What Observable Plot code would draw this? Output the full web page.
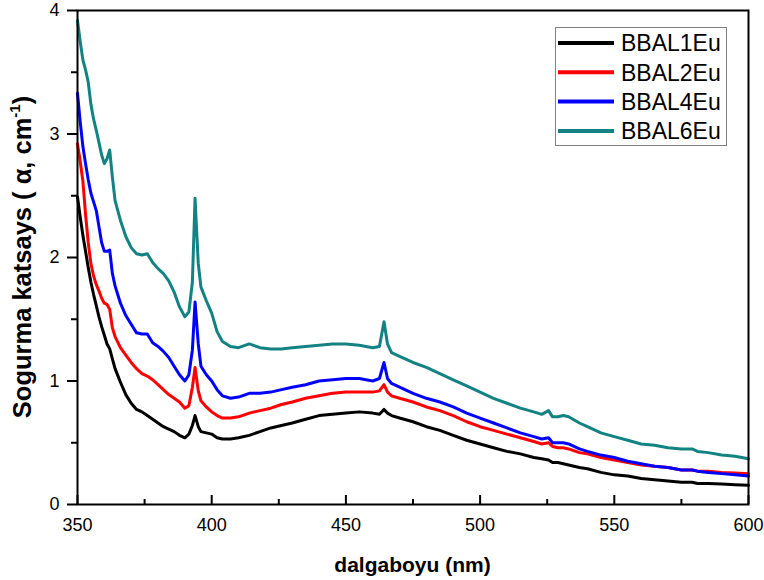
<!DOCTYPE html>
<html><head><meta charset="utf-8">
<script src="https://cdn.jsdelivr.net/npm/d3@7"></script>
<script src="https://cdn.jsdelivr.net/npm/@observablehq/plot@0.6"></script>
<style>body{margin:0;background:#fff;} svg{font-family:"Liberation Sans",Arial,sans-serif;}</style>
</head><body><div id="chart"></div>
<script>
const wavelength = [
  350,351,352,353,354,355,356,357,358,359,
  360,361,362,363,364,366,368,370,372,374,
  376,378,380,382,384,386,388,390,391.5,392.8,
  393.8,395,396,398,400,402,404,407,410,414,
  418,422,426,430,435,440,445,450,455,460,
  462.5,464.2,465.5,467,470,475,480,485,490,495,
  500,505,510,515,520,523,525.5,527,529,531,
  533,537,540,545,550,555,560,565,570,575,
  579,581,585,590,595,600];
const bbal1 = [
  2.49,2.33,2.18,2.05,1.92,1.80,1.70,1.61,1.52,1.44,
  1.37,1.30,1.26,1.18,1.10,0.99,0.89,0.82,0.77,0.75,
  0.72,0.69,0.66,0.63,0.61,0.59,0.56,0.54,0.57,0.64,
  0.72,0.63,0.59,0.58,0.57,0.54,0.53,0.53,0.54,0.56,
  0.59,0.62,0.64,0.66,0.69,0.72,0.73,0.74,0.75,0.74,
  0.73,0.77,0.74,0.72,0.70,0.67,0.63,0.60,0.56,0.52,
  0.49,0.46,0.43,0.41,0.38,0.37,0.36,0.34,0.34,0.33,
  0.32,0.30,0.29,0.26,0.24,0.23,0.21,0.20,0.19,0.18,
  0.18,0.17,0.17,0.165,0.16,0.155];
const bbal2 = [
  2.92,2.78,2.62,2.35,2.12,1.95,1.85,1.78,1.73,1.67,
  1.63,1.62,1.58,1.43,1.36,1.27,1.21,1.15,1.10,1.06,
  1.04,1.01,0.97,0.93,0.89,0.86,0.83,0.78,0.80,0.95,
  1.11,0.92,0.84,0.79,0.75,0.72,0.70,0.70,0.71,0.74,
  0.76,0.78,0.81,0.83,0.86,0.88,0.90,0.91,0.91,0.91,
  0.92,0.97,0.91,0.88,0.86,0.83,0.79,0.76,0.72,0.67,
  0.63,0.60,0.57,0.54,0.51,0.49,0.50,0.47,0.46,0.46,
  0.45,0.42,0.41,0.38,0.36,0.34,0.32,0.31,0.30,0.28,
  0.28,0.27,0.27,0.26,0.255,0.25];
const bbal4 = [
  3.33,3.10,2.90,2.76,2.63,2.52,2.45,2.38,2.25,2.12,
  2.05,2.05,2.06,1.87,1.77,1.63,1.53,1.46,1.39,1.38,
  1.38,1.31,1.28,1.24,1.19,1.12,1.05,1.00,1.05,1.25,
  1.64,1.30,1.12,1.05,1.00,0.93,0.88,0.86,0.87,0.90,
  0.90,0.91,0.93,0.95,0.97,1.00,1.01,1.02,1.02,1.00,
  1.02,1.15,1.02,0.98,0.95,0.90,0.86,0.83,0.79,0.74,
  0.70,0.66,0.62,0.58,0.55,0.53,0.54,0.50,0.50,0.50,
  0.49,0.45,0.43,0.40,0.38,0.35,0.33,0.31,0.30,0.28,
  0.28,0.27,0.26,0.25,0.24,0.23];
const bbal6 = [
  3.92,3.75,3.60,3.52,3.42,3.24,3.12,3.03,2.93,2.83,
  2.76,2.80,2.87,2.65,2.46,2.30,2.17,2.08,2.03,2.02,
  2.03,1.96,1.91,1.87,1.81,1.72,1.60,1.52,1.56,1.80,
  2.48,1.95,1.76,1.65,1.55,1.40,1.32,1.28,1.27,1.30,
  1.27,1.26,1.26,1.27,1.28,1.29,1.30,1.30,1.29,1.27,
  1.28,1.48,1.30,1.23,1.20,1.15,1.11,1.06,1.01,0.96,
  0.91,0.86,0.82,0.78,0.75,0.73,0.76,0.71,0.71,0.72,
  0.71,0.66,0.63,0.58,0.55,0.52,0.49,0.48,0.46,0.45,
  0.45,0.43,0.42,0.40,0.39,0.37];
const seriesNames = ["BBAL1Eu","BBAL2Eu","BBAL4Eu","BBAL6Eu"];
const seriesColors = ["#000000","#ff0000","#0000ff","#128282"];
const xMajorTicks = [350,400,450,500,550,600];
const xMinorTicks = [375,425,475,525,575];
const yMajorTicks = [0,1,2,3,4];
const yMinorTicks = [0.5,1.5,2.5,3.5];
const xTitle = "dalgaboyu (nm)";
const yTitleMain = "Sogurma katsays ( α, cm";
const yTitleSup = "-1";
const yTitleEnd = ")";

const seriesValues = [bbal1, bbal2, bbal4, bbal6];
const rows = [];
seriesValues.forEach((arr, i) => arr.forEach((v, j) => rows.push({wl: wavelength[j], a: v, s: seriesNames[i]})));

const W = 764, H = 580, mL = 77, mR = 16, mT = 10, mB = 76;
const innerH = H - mT - mB;

const plot = Plot.plot({
  width: W, height: H,
  marginLeft: mL, marginRight: mR, marginTop: mT, marginBottom: mB,
  x: {domain: [350, 600]},
  y: {domain: [0, 4]},
  color: {domain: seriesNames, range: seriesColors},
  style: {background: "white", color: "black", fontFamily: "'Liberation Sans', Arial, sans-serif"},
  marks: [
    Plot.line(rows, {x: "wl", y: "a", stroke: "s", strokeWidth: 3, strokeLinejoin: "round"}),
    Plot.tickX(xMajorTicks, {x: d => d, insetTop: innerH - 9, stroke: "black", strokeWidth: 2}),
    Plot.tickX(xMinorTicks, {x: d => d, insetTop: innerH - 5, stroke: "black", strokeWidth: 2}),
    Plot.axisX(xMajorTicks, {tickSize: 0, tickPadding: 14, fontSize: 18, label: null, tickFormat: d => String(d)}),
    Plot.axisY(yMajorTicks, {tickSize: 10, tickPadding: 8, fontSize: 18, label: null, strokeWidth: 2, tickFormat: d => String(d)}),
    Plot.axisY(yMinorTicks, {tickSize: 6, tickFormat: () => "", label: null, strokeWidth: 2}),
    Plot.frame({stroke: "black", strokeWidth: 2})
  ]
});

const svg = d3.select(plot);
svg.append("text")
  .attr("x", (mL + W - mR) / 2).attr("y", 572)
  .attr("text-anchor", "middle")
  .attr("font-size", 21).attr("font-weight", "bold").attr("fill", "black")
  .text(xTitle);

const yt = svg.append("text")
  .attr("transform", `translate(31,${(mT + H - mB) / 2}) rotate(-90)`)
  .attr("text-anchor", "middle")
  .attr("font-size", 25.5).attr("font-weight", "bold").attr("fill", "black");
yt.append("tspan").text(yTitleMain);
yt.append("tspan").attr("font-size", 15).attr("dy", -11).text(yTitleSup);
yt.append("tspan").attr("dy", 11).text(yTitleEnd);

const lg = svg.append("g");
lg.append("rect").attr("x", 555.5).attr("y", 27.5).attr("width", 171).attr("height", 118)
  .attr("fill", "white").attr("stroke", "#808080").attr("stroke-width", 1);
seriesNames.forEach((name, i) => {
  const yy = 43 + i * 29.3;
  lg.append("line").attr("x1", 558).attr("x2", 614).attr("y1", yy).attr("y2", yy)
    .attr("stroke", seriesColors[i]).attr("stroke-width", 4);
  lg.append("text").attr("x", 621).attr("y", yy).attr("dy", "0.36em")
    .attr("text-anchor", "start")
    .attr("font-size", 23).attr("fill", "black").text(name);
});

document.getElementById("chart").appendChild(plot);
</script>
</body></html>
